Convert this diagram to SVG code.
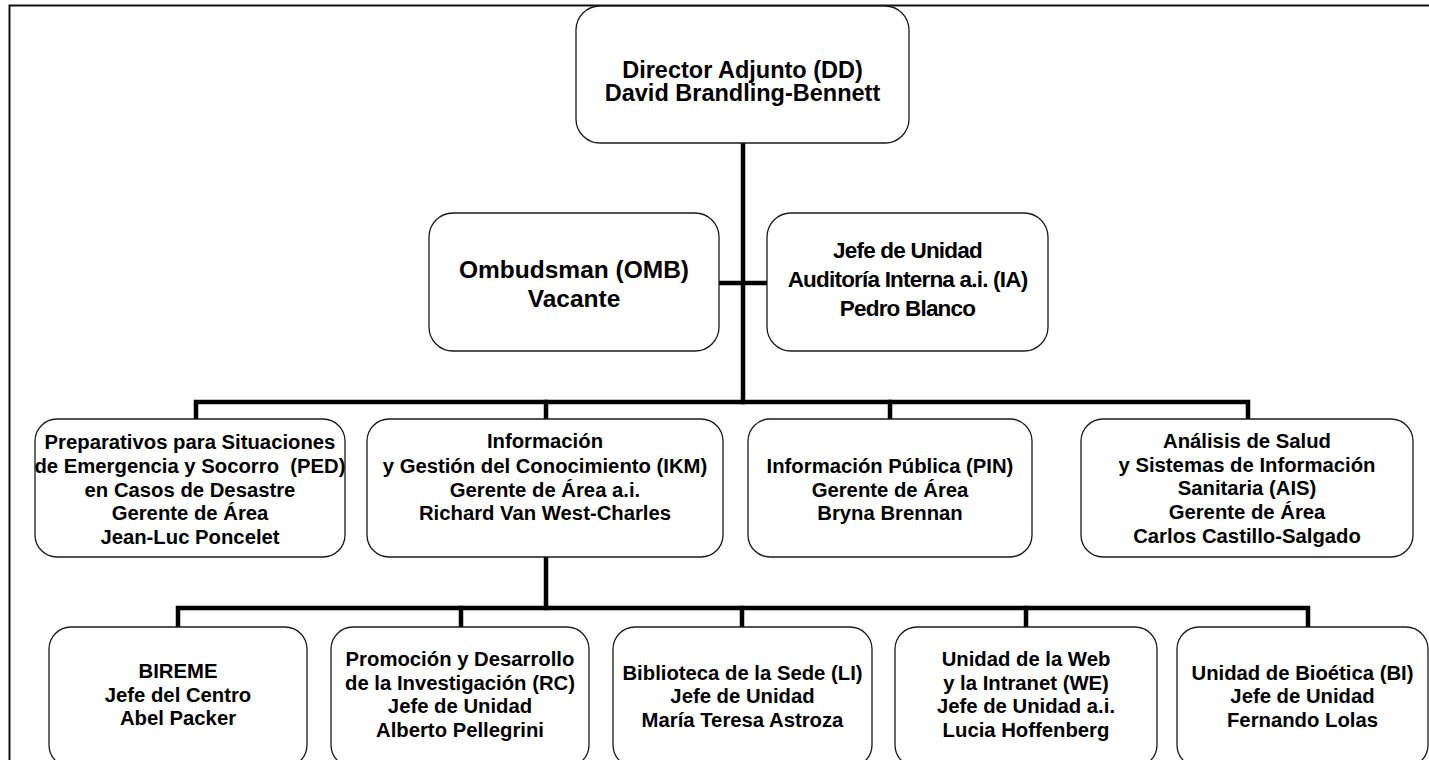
<svg xmlns="http://www.w3.org/2000/svg" width="1429" height="760" viewBox="0 0 1429 760">
<style>
.box{fill:#fff;stroke:#1a1a1a;stroke-width:1.3}
.con{fill:none;stroke:#000;stroke-width:4.5;stroke-linejoin:miter;stroke-linecap:square}
text{font-family:"Liberation Sans",Arial,sans-serif;font-weight:bold;fill:#000;text-anchor:middle}
.t1{font-size:23.5px}
.t2{font-size:24.5px}
.t2s{font-size:22.5px;letter-spacing:-0.8px}
.t3{font-size:20.3px}
</style>
<rect x="0" y="0" width="1429" height="760" fill="#fff"/>
<rect x="9.5" y="5.5" width="1450" height="800" fill="none" stroke="#111" stroke-width="2"/>
<g id="connectors">
<path class="con" d="M743 143 V402"/>
<path class="con" d="M719 283 H767"/>
<path class="con" d="M196 419 V402 H1248 V419"/>
<path class="con" d="M546 402 V419"/>
<path class="con" d="M890 402 V419"/>
<path class="con" d="M546 557 V608"/>
<path class="con" d="M178 627 V608 H1308 V627"/>
<path class="con" d="M461 608 V627"/>
<path class="con" d="M742 608 V627"/>
<path class="con" d="M1026 608 V627"/>
</g>
<g id="dd">
<rect class="box" x="576" y="6" width="333" height="137" rx="24"/>
<text class="t1"><tspan x="742.5" y="78">Director Adjunto (DD)</tspan><tspan x="742.5" y="101">David Brandling-Bennett</tspan></text>
</g>
<g id="omb">
<rect class="box" x="429" y="213" width="290" height="138" rx="24"/>
<text class="t2"><tspan x="574" y="278">Ombudsman (OMB)</tspan><tspan x="574" y="307">Vacante</tspan></text>
</g>
<g id="ia">
<rect class="box" x="767" y="213" width="281" height="138" rx="24"/>
<text class="t2s"><tspan x="907.5" y="258">Jefe de Unidad</tspan><tspan x="907.5" y="287">Auditoría Interna a.i. (IA)</tspan><tspan x="907.5" y="316">Pedro Blanco</tspan></text>
</g>
<g id="ped">
<rect class="box" x="35" y="419" width="310" height="138" rx="22"/>
<text class="t3" xml:space="preserve"><tspan x="190" y="449">Preparativos para Situaciones</tspan><tspan x="190" y="473">de Emergencia y Socorro  (PED)</tspan><tspan x="190" y="497">en Casos de Desastre</tspan><tspan x="190" y="520">Gerente de Área</tspan><tspan x="190" y="544">Jean-Luc Poncelet</tspan></text>
</g>
<g id="ikm">
<rect class="box" x="367" y="419" width="356" height="138" rx="22"/>
<text class="t3"><tspan x="545" y="448">Información</tspan><tspan x="545" y="473">y Gestión del Conocimiento (IKM)</tspan><tspan x="545" y="497">Gerente de Área a.i.</tspan><tspan x="545" y="520">Richard Van West-Charles</tspan></text>
</g>
<g id="pin">
<rect class="box" x="748" y="419" width="284" height="138" rx="22"/>
<text class="t3"><tspan x="890" y="473">Información Pública (PIN)</tspan><tspan x="890" y="497">Gerente de Área</tspan><tspan x="890" y="520">Bryna Brennan</tspan></text>
</g>
<g id="ais">
<rect class="box" x="1081" y="419" width="332" height="138" rx="22"/>
<text class="t3"><tspan x="1247" y="448">Análisis de Salud</tspan><tspan x="1247" y="472">y Sistemas de Información</tspan><tspan x="1247" y="495">Sanitaria (AIS)</tspan><tspan x="1247" y="519">Gerente de Área</tspan><tspan x="1247" y="543">Carlos Castillo-Salgado</tspan></text>
</g>
<g id="bireme">
<rect class="box" x="49" y="627" width="258" height="140" rx="22"/>
<text class="t3"><tspan x="178" y="678">BIREME</tspan><tspan x="178" y="702">Jefe del Centro</tspan><tspan x="178" y="725">Abel Packer</tspan></text>
</g>
<g id="rc">
<rect class="box" x="331" y="627" width="258" height="140" rx="22"/>
<text class="t3"><tspan x="460" y="666">Promoción y Desarrollo</tspan><tspan x="460" y="690">de la Investigación (RC)</tspan><tspan x="460" y="713">Jefe de Unidad</tspan><tspan x="460" y="737">Alberto Pellegrini</tspan></text>
</g>
<g id="li">
<rect class="box" x="613" y="627" width="259" height="140" rx="22"/>
<text class="t3"><tspan x="742.5" y="680">Biblioteca de la Sede (LI)</tspan><tspan x="742.5" y="703">Jefe de Unidad</tspan><tspan x="742.5" y="727">María Teresa Astroza</tspan></text>
</g>
<g id="we">
<rect class="box" x="895" y="627" width="262" height="140" rx="22"/>
<text class="t3"><tspan x="1026" y="666">Unidad de la Web</tspan><tspan x="1026" y="690">y la Intranet (WE)</tspan><tspan x="1026" y="713">Jefe de Unidad a.i.</tspan><tspan x="1026" y="737">Lucia Hoffenberg</tspan></text>
</g>
<g id="bi">
<rect class="box" x="1177" y="627" width="251" height="140" rx="22"/>
<text class="t3"><tspan x="1302.5" y="680">Unidad de Bioética (BI)</tspan><tspan x="1302.5" y="703">Jefe de Unidad</tspan><tspan x="1302.5" y="727">Fernando Lolas</tspan></text>
</g>
</svg>
